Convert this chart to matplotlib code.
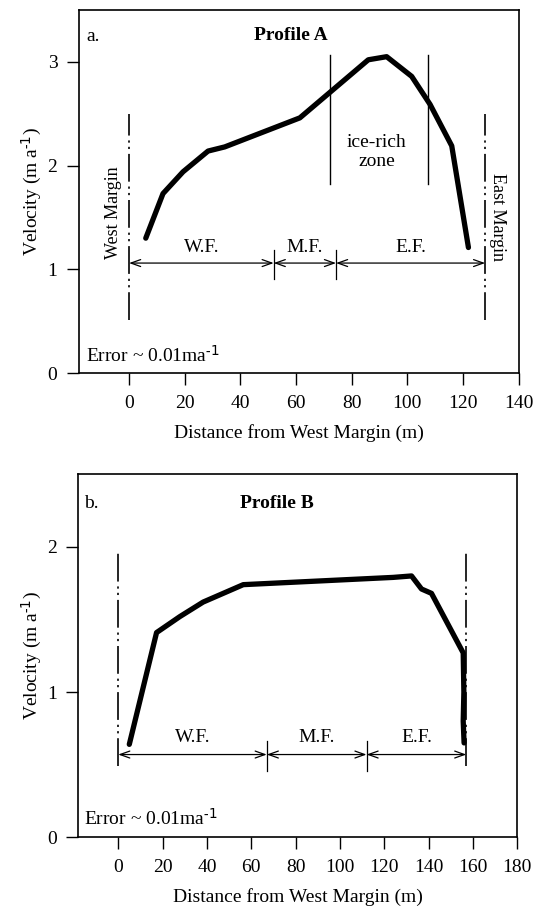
import matplotlib
matplotlib.use('Agg')
import matplotlib.pyplot as plt

plt.rcParams['font.family'] = ['Liberation Serif', 'DejaVu Serif']
plt.rcParams['mathtext.fontset'] = 'custom'
plt.rcParams['mathtext.rm'] = 'Liberation Serif'
plt.rcParams['mathtext.it'] = 'Liberation Serif:italic'
plt.rcParams['mathtext.bf'] = 'Liberation Serif:bold'
plt.rcParams['lines.scale_dashes'] = False

# ---- data ----
dist_a = [6.0, 12.2, 19.4, 28.4, 34.4, 61.4, 86.0, 92.6, 101.6, 108.2, 116.0, 122.0]
vel_a = [1.30, 1.73, 1.94, 2.14, 2.18, 2.46, 3.02, 3.05, 2.86, 2.59, 2.19, 1.21]

dist_b = [5.0, 17.3, 27.8, 38.3, 56.4, 124.0, 132.3, 136.8, 141.3, 155.6, 155.9, 155.6, 156.0]
vel_b = [0.64, 1.41, 1.52, 1.62, 1.74, 1.79, 1.80, 1.71, 1.68, 1.27, 1.00, 0.80, 0.65]

zone_labels = ['W.F.', 'M.F.', 'E.F.']
zone_bounds_a = [0, 52, 74.4, 128]
zone_bounds_b = [0, 67, 112, 157]
ice_rich_a = [72.2, 107.6]

xticks_a = [0, 20, 40, 60, 80, 100, 120, 140]
xticks_b = [0, 20, 40, 60, 80, 100, 120, 140, 160, 180]
yticks_a = [0, 1, 2, 3]
yticks_b = [0, 1, 2]

FS = 14
margin_ls = (0, (20, 3.5, 1.6, 3, 1.6, 3.5))
SUP = '$^{\\mathrm{\u2010}\\mathsf{1}}$'

fig = plt.figure(figsize=(5.36, 9.10), dpi=100)
ax1 = fig.add_axes([79 / 536, 1 - 373 / 910, 439.5 / 536, 363 / 910])
ax2 = fig.add_axes([78.3 / 536, 1 - 837.3 / 910, 439 / 536, 363 / 910])


def style(ax, xlim, ylim, xt, yt):
    ax.set_xlim(*xlim)
    ax.set_ylim(*ylim)
    ax.set_xticks(xt)
    ax.set_yticks(yt)
    ax.tick_params(direction='out', length=8.5, width=1.0, labelsize=FS, pad=7)
    for s in ax.spines.values():
        s.set_linewidth(1.2)
    ax.set_xlabel('Distance from West Margin (m)', fontsize=FS, labelpad=9)
    ax.set_ylabel('Velocity (m a' + SUP + ')', fontsize=FS, labelpad=3)


def zones(ax, bounds, y, tick_lo, tick_hi, label_y):
    for i in range(len(bounds) - 1):
        ax.annotate('', xy=(bounds[i + 1], y), xytext=(bounds[i], y),
                    arrowprops=dict(arrowstyle='<->,head_length=0.7,head_width=0.25',
                                    lw=0.9, color='black', shrinkA=0, shrinkB=0))
        ax.text((bounds[i] + bounds[i + 1]) / 2, label_y, zone_labels[i],
                ha='center', va='center', fontsize=FS)
    for b in bounds[1:-1]:
        ax.plot([b, b], [tick_lo, tick_hi], color='black', lw=0.9)


# ---- Panel A ----
style(ax1, (-18, 140), (0, 3.5), xticks_a, yticks_a)
ax1.plot(dist_a, vel_a, color='black', lw=3.8, solid_joinstyle='round', solid_capstyle='round')
for x in ice_rich_a:
    ax1.plot([x, x], [1.82, 3.07], color='black', lw=1.0)
ax1.text(89, 2.13, 'ice-rich\nzone', ha='center', va='center', fontsize=FS, linespacing=1.15)
for x in (zone_bounds_a[0], zone_bounds_a[-1]):
    ax1.plot([x, x], [0.51, 2.5], color='black', lw=1.2, linestyle=margin_ls)
zones(ax1, zone_bounds_a, 1.06, 0.91, 1.19, 1.21)
ax1.text(-5.5, 1.55, 'West Margin', rotation=90, ha='center', va='center', fontsize=13)
ax1.text(132.3, 1.50, 'East Margin', rotation=-90, ha='center', va='center', fontsize=13)
ax1.text(-15.5, 3.24, 'a.', ha='left', va='center', fontsize=FS)
ax1.text(58, 3.25, 'Profile A', ha='center', va='center', fontsize=FS, fontweight='bold')
ax1.text(-15.5, 0.17, 'Error ~ 0.01ma' + SUP, ha='left', va='center', fontsize=FS)

# ---- Panel B ----
style(ax2, (-18, 180), (0, 2.5), xticks_b, yticks_b)
ax2.plot(dist_b, vel_b, color='black', lw=3.8, solid_joinstyle='round', solid_capstyle='round')
for x in (zone_bounds_b[0], zone_bounds_b[-1]):
    ax2.plot([x, x], [0.49, 1.98], color='black', lw=1.2, linestyle=margin_ls)
zones(ax2, zone_bounds_b, 0.57, 0.46, 0.66, 0.69)
ax2.text(-15.5, 2.30, 'b.', ha='left', va='center', fontsize=FS)
ax2.text(71.5, 2.30, 'Profile B', ha='center', va='center', fontsize=FS, fontweight='bold')
ax2.text(-15.5, 0.13, 'Error ~ 0.01ma' + SUP, ha='left', va='center', fontsize=FS)

fig.savefig('out.png', dpi=100)
